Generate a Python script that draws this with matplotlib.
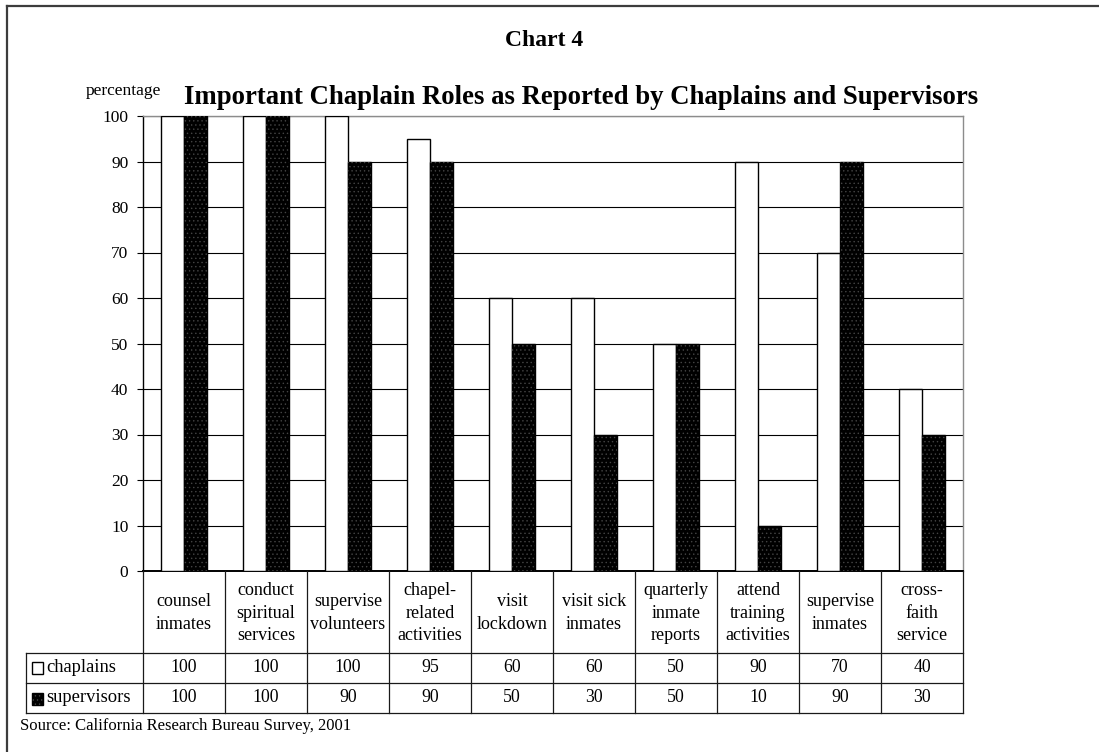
import numpy as np
import matplotlib
matplotlib.use("Agg")
import matplotlib.pyplot as plt
from matplotlib.transforms import blended_transform_factory
from matplotlib.patches import Rectangle
from matplotlib.lines import Line2D

# ---- data ----
categories = [
    "counsel\ninmates",
    "conduct\nspiritual\nservices",
    "supervise\nvolunteers",
    "chapel-\nrelated\nactivities",
    "visit\nlockdown",
    "visit sick\ninmates",
    "quarterly\ninmate\nreports",
    "attend\ntraining\nactivities",
    "supervise\ninmates",
    "cross-\nfaith\nservice",
]
chaplains = [100, 100, 100, 95, 60, 60, 50, 90, 70, 40]
supervisors = [100, 100, 90, 90, 50, 30, 50, 10, 90, 30]
series_names = ["chaplains", "supervisors"]
yticks = list(range(0, 101, 10))

plt.rcParams["font.family"] = ["Liberation Serif", "DejaVu Serif"]
plt.rcParams["hatch.linewidth"] = 0.5

W, H = 1099, 752
fig = plt.figure(figsize=(W / 100, H / 100), dpi=100)
fig.patch.set_facecolor("white")


def fy(py):
    return 1 - py / H


def fx(px):
    return px / W


# plot area (pixel layout)
left, right, top, bottom = 143, 963, 116, 571
ax = fig.add_axes([fx(left), fy(bottom), fx(right - left), (bottom - top) / H])

x = np.arange(len(categories))
bw = 0.285
dot_color = "#444444"
ax.bar(x - bw / 2, chaplains, bw, color="white", edgecolor="black", lw=1.0, zorder=3)
ax.bar(x + bw / 2, supervisors, bw, color="black", edgecolor="black", lw=1.0, zorder=3)
ax.bar(x + bw / 2, supervisors, bw, fill=False, hatch="....", edgecolor=dot_color,
       lw=0, zorder=4)

ax.set_xlim(-0.5, len(categories) - 0.5)
ax.set_ylim(0, 100)
ax.set_yticks(yticks)
ax.set_xticks([])
ax.yaxis.grid(True, color="black", lw=0.8)
ax.set_axisbelow(True)
for s in ("top", "right"):
    ax.spines[s].set_color("#8c8c8c")
    ax.spines[s].set_linewidth(1.0)
ax.spines["left"].set_color("black")
ax.spines["left"].set_linewidth(1.0)
ax.spines["bottom"].set_color("black")
ax.spines["bottom"].set_linewidth(1.4)
ax.tick_params(axis="y", direction="out", length=4.5, width=0.8, labelsize=12.5, pad=6)

# ---- data table below the axis ----
trans = blended_transform_factory(ax.transData, fig.transFigure)
row_lab_bot, row1_bot, row2_bot = 653, 683, 713
leg_left = -0.5 - (left - 26) / ((right - left) / len(categories))
x0, x1 = -0.5, len(categories) - 0.5
line_kw = dict(color="#1a1a1a", lw=0.9, transform=trans, clip_on=False)

for py in (row_lab_bot, row1_bot, row2_bot):
    fig.add_artist(Line2D([leg_left, x1], [fy(py), fy(py)], **line_kw))
for k in range(len(categories) + 1):
    xv = x0 + k
    fig.add_artist(Line2D([xv, xv], [fy(bottom), fy(row2_bot)], **line_kw))
fig.add_artist(Line2D([leg_left, leg_left], [fy(row_lab_bot), fy(row2_bot)], **line_kw))

for i, cat in enumerate(categories):
    fig.text(x[i], fy((bottom + row_lab_bot) / 2 + 1), cat, transform=trans,
             ha="center", va="center", fontsize=13, linespacing=1.45)
    fig.text(x[i], fy((row_lab_bot + row1_bot) / 2), str(chaplains[i]), transform=trans,
             ha="center", va="center", fontsize=12.8)
    fig.text(x[i], fy((row1_bot + row2_bot) / 2), str(supervisors[i]), transform=trans,
             ha="center", va="center", fontsize=12.8)

# legend keys inside the table
fig.add_artist(Rectangle((fx(32), fy(674)), fx(11), 12 / H, transform=fig.transFigure,
                         facecolor="white", edgecolor="black", lw=1.0))
fig.add_artist(Rectangle((fx(32), fy(705)), fx(11), 12 / H, transform=fig.transFigure,
                         facecolor="black", edgecolor="black", lw=1.0))
fig.add_artist(Rectangle((fx(32), fy(705)), fx(11), 12 / H, transform=fig.transFigure,
                         fill=False, hatch="....", edgecolor=dot_color, lw=0))
fig.text(fx(46), fy(668), series_names[0], ha="left", va="center", fontsize=13.3)
fig.text(fx(46), fy(698), series_names[1], ha="left", va="center", fontsize=13.3)

# ---- titles and notes ----
fig.text(fx(544), fy(40), "Chart 4", ha="center", va="center", fontsize=17,
         fontweight="bold")
fig.text(fx(581), fy(97),
         "Important Chaplain Roles as Reported by Chaplains and Supervisors",
         ha="center", va="center", fontsize=19.3, fontweight="bold")
fig.text(fx(123), fy(91), "percentage", ha="center", va="center", fontsize=12.5)
fig.text(fx(20), fy(726), "Source: California Research Bureau Survey, 2001",
         ha="left", va="center", fontsize=12)

# outer frame
frame_kw = dict(color="#3c3c3c", lw=1.6, transform=fig.transFigure)
fig.add_artist(Line2D([fx(7), fx(7)], [0, fy(6)], **frame_kw))
fig.add_artist(Line2D([fx(7), 1], [fy(6), fy(6)], **frame_kw))

fig.savefig("out.png", dpi=100, facecolor="white")
